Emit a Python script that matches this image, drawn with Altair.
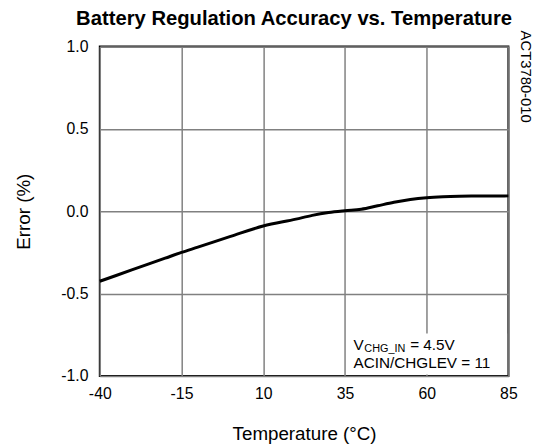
import altair as alt
import pandas as pd

temps = [-40, -30, -20, -15, -10, 0, 10, 20, 25, 30, 35, 40, 45, 50, 55, 60, 65, 70, 75, 85]
errs = [-0.425, -0.355, -0.285, -0.25, -0.218, -0.153, -0.09, -0.048, -0.025, -0.008, 0.003, 0.012,
        0.033, 0.054, 0.071, 0.082, 0.088, 0.091, 0.092, 0.093]
x_ticks = [-40, -15, 10, 35, 60, 85]
y_ticks = [-1.0, -0.5, 0.0, 0.5, 1.0]

df = pd.DataFrame({"t": temps, "e": errs})

FONT = "Liberation Sans"
xscale = alt.Scale(domain=[-40, 85], nice=False, zero=False)
yscale = alt.Scale(domain=[-1.0, 1.0], nice=False, zero=False)

line = alt.Chart(df).mark_line(color="black", strokeWidth=3, interpolate="monotone").encode(
    x=alt.X("t:Q", scale=xscale,
            axis=alt.Axis(values=x_ticks, title="Temperature (°C)", grid=True, labelFlush=False,
                          labelExpr="replace(format(datum.value, 'd'), '\u2212', '-')")),
    y=alt.Y("e:Q", scale=yscale,
            axis=alt.Axis(values=y_ticks, title="Error (%)", grid=True, labelFlush=False,
                          labelExpr="replace(format(datum.value, '.1f'), '\u2212', '-')")),
)

box_df = pd.DataFrame({"x1": [35.8], "x2": [84.6], "y1": [-0.99], "y2": [-0.742]})
box = alt.Chart(box_df).mark_rect(color="white").encode(
    x=alt.X("x1:Q", scale=xscale), x2="x2:Q",
    y=alt.Y("y1:Q", scale=yscale), y2="y2:Q",
)

ann_df = pd.DataFrame({"x": [37.6], "y1": [-0.842], "y2": [-0.952]})
t_v = alt.Chart(ann_df).mark_text(align="left", baseline="alphabetic", fontSize=15.5, font=FONT).encode(
    x=alt.X("x:Q", scale=xscale), y=alt.Y("y1:Q", scale=yscale), text=alt.value("V"))
t_sub = alt.Chart(ann_df).mark_text(align="left", baseline="alphabetic", fontSize=11, font=FONT, dx=11, dy=2).encode(
    x=alt.X("x:Q", scale=xscale), y=alt.Y("y1:Q", scale=yscale), text=alt.value("CHG_IN"))
t_eq = alt.Chart(ann_df).mark_text(align="left", baseline="alphabetic", fontSize=15.5, font=FONT, dx=57.5).encode(
    x=alt.X("x:Q", scale=xscale), y=alt.Y("y1:Q", scale=yscale), text=alt.value("= 4.5V"))
t_2 = alt.Chart(ann_df).mark_text(align="left", baseline="alphabetic", fontSize=15.5, font=FONT).encode(
    x=alt.X("x:Q", scale=xscale), y=alt.Y("y2:Q", scale=yscale), text=alt.value("ACIN/CHGLEV = 11"))

code = alt.Chart(ann_df).mark_text(align="left", baseline="middle", angle=90, fontSize=15, font=FONT).encode(
    x=alt.value(432), y=alt.value(-16), text=alt.value("ACT3780-010"))

title = alt.Chart(ann_df).mark_text(align="left", baseline="alphabetic", fontSize=20.5, fontWeight="bold",
                                    font=FONT).encode(
    x=alt.value(-24), y=alt.value(-22), text=alt.value("Battery Regulation Accuracy vs. Temperature"))

chart = alt.layer(box, line, t_v, t_sub, t_eq, t_2, code, title).properties(
    width=414, height=334,
    padding={"left": 93, "top": 36, "right": 30, "bottom": 69},
    autosize=alt.AutoSizeParams(type="none"),
).configure_view(stroke="black", strokeWidth=2).configure_axis(
    labelFont=FONT, titleFont=FONT, labelFontSize=16, titleFontSize=19, labelColor="black", titleColor="black",
    titleFontWeight="normal", ticks=False, domain=False, gridColor="#808080", gridWidth=1.5, gridOpacity=1,
).configure_axisX(labelPadding=10, titlePadding=23).configure_axisY(labelPadding=12, titlePadding=28)

chart.save("out.html", embed_options={"renderer": "svg", "actions": False})
